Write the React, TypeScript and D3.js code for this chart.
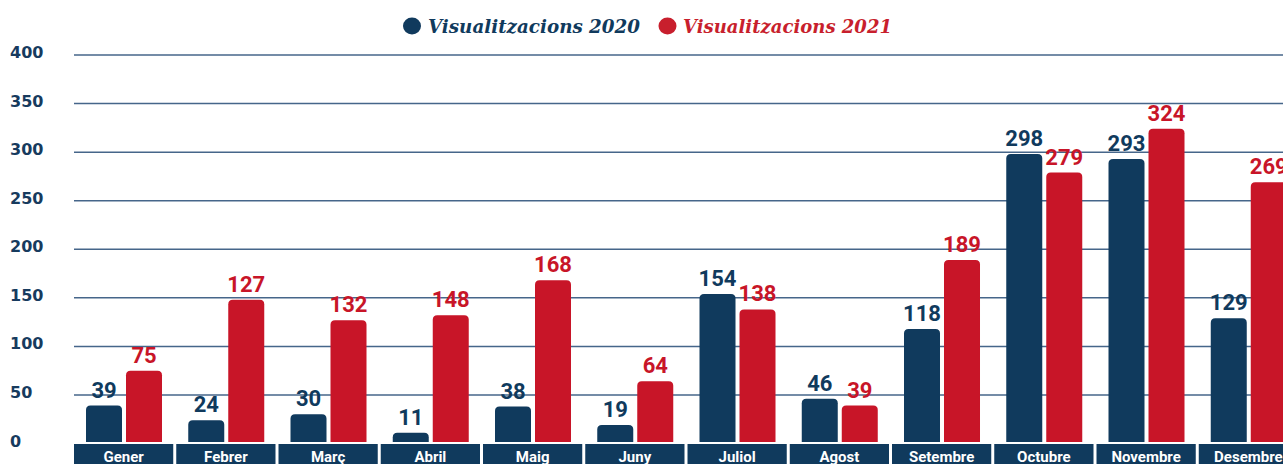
import React from "react";
import * as d3 from "d3";

const mesos = ["Gener", "Febrer", "Març", "Abril", "Maig", "Juny", "Juliol", "Agost", "Setembre", "Octubre", "Novembre", "Desembre"];
const visualitzacions2020 = [39, 24, 30, 11, 38, 19, 154, 46, 118, 298, 293, 129];
const visualitzacions2021 = [75, 148, 127, 132, 168, 64, 138, 39, 189, 279, 324, 269];
const etiquetes2020 = ["39", "24", "30", "11", "38", "19", "154", "46", "118", "298", "293", "129"];
const etiquetes2021 = ["75", "127", "132", "148", "168", "64", "138", "39", "189", "279", "324", "269"];
const series = ["Visualitzacions 2020", "Visualitzacions 2021"];
const yTicks = [0, 50, 100, 150, 200, 250, 300, 350, 400];

const W = 1283;
const H = 464;
const NAVY = "#103a5d";
const RED = "#c81528";
const GRID = "#46668a";

function topRoundedRect(x: number, y: number, w: number, h: number, r: number) {
  const rr = Math.min(r, h, w / 2);
  return `M${x},${y + h}V${y + rr}Q${x},${y} ${x + rr},${y}H${x + w - rr}Q${x + w},${y} ${x + w},${y + rr}V${y + h}Z`;
}

export default function App() {
  const x = d3.scaleBand<string>().domain(mesos).range([74, 74 + 12 * 102]).paddingInner(3 / 102).paddingOuter(0);
  const inner = d3.scaleBand<string>().domain(series).range([12, 88]).paddingInner(0.1).paddingOuter(0);
  const y = d3.scaleLinear().domain([0, 400]).range([443.5, 55]);
  const base = y(0) - 1.5;
  const datasets = [
    { vals: visualitzacions2020, labels: etiquetes2020, color: NAVY, key: series[0] },
    { vals: visualitzacions2021, labels: etiquetes2021, color: RED, key: series[1] },
  ];
  const legendItems = [
    { cx: 412, tx: 428, len: 212, color: NAVY, label: series[0] },
    { cx: 667.5, tx: 683, len: 209, color: "#c81f2d", label: series[1] },
  ];
  return (
    <svg width={W} height={H} style={{ position: "absolute", left: 0, top: 0, overflow: "hidden", background: "#fff" }}>
      {/* legend */}
      {legendItems.map((l) => (
        <g key={l.label}>
          <ellipse cx={l.cx} cy={26} rx={9} ry={8.5} fill={l.color} />
          <text x={l.tx} y={33} fill={l.color} fontFamily="'DejaVu Serif', serif" fontStyle="italic" fontWeight={700} fontSize={19} textLength={l.len} lengthAdjust="spacingAndGlyphs">
            {l.label}
          </text>
        </g>
      ))}
      {/* grid + y labels */}
      {yTicks.map((t) => (
        <g key={t}>
          {t > 0 && <line x1={74} x2={W} y1={y(t)} y2={y(t)} stroke={GRID} strokeWidth={1.5} />}
          <text x={10} y={y(t) - 2.5} dominantBaseline="central" fill="#173b5e" fontFamily="'DejaVu Sans', sans-serif" fontWeight={700} fontSize={16}>
            {t}
          </text>
        </g>
      ))}
      {/* bars */}
      {mesos.map((m, i) => (
        <g key={m} transform={`translate(${x(m)},0)`}>
          {datasets.map((d) => {
            const bx = inner(d.key)!;
            const bw = inner.bandwidth();
            const top = y(d.vals[i]);
            return (
              <g key={d.key}>
                <path d={topRoundedRect(bx, top, bw, base - top, 4.5)} fill={d.color} />
                <text x={bx + bw / 2} y={top - 8} textAnchor="middle" fill={d.color} fontFamily="Roboto, sans-serif" fontWeight={700} fontSize={22}>
                  {d.labels[i]}
                </text>
              </g>
            );
          })}
          <rect x={0} y={444} width={x.bandwidth()} height={30} fill={NAVY} />
          <text x={x.bandwidth() / 2} y={462} textAnchor="middle" fill="#fff" fontFamily="Roboto, sans-serif" fontWeight={700} fontSize={15}>
            {m}
          </text>
        </g>
      ))}
    </svg>
  );
}
